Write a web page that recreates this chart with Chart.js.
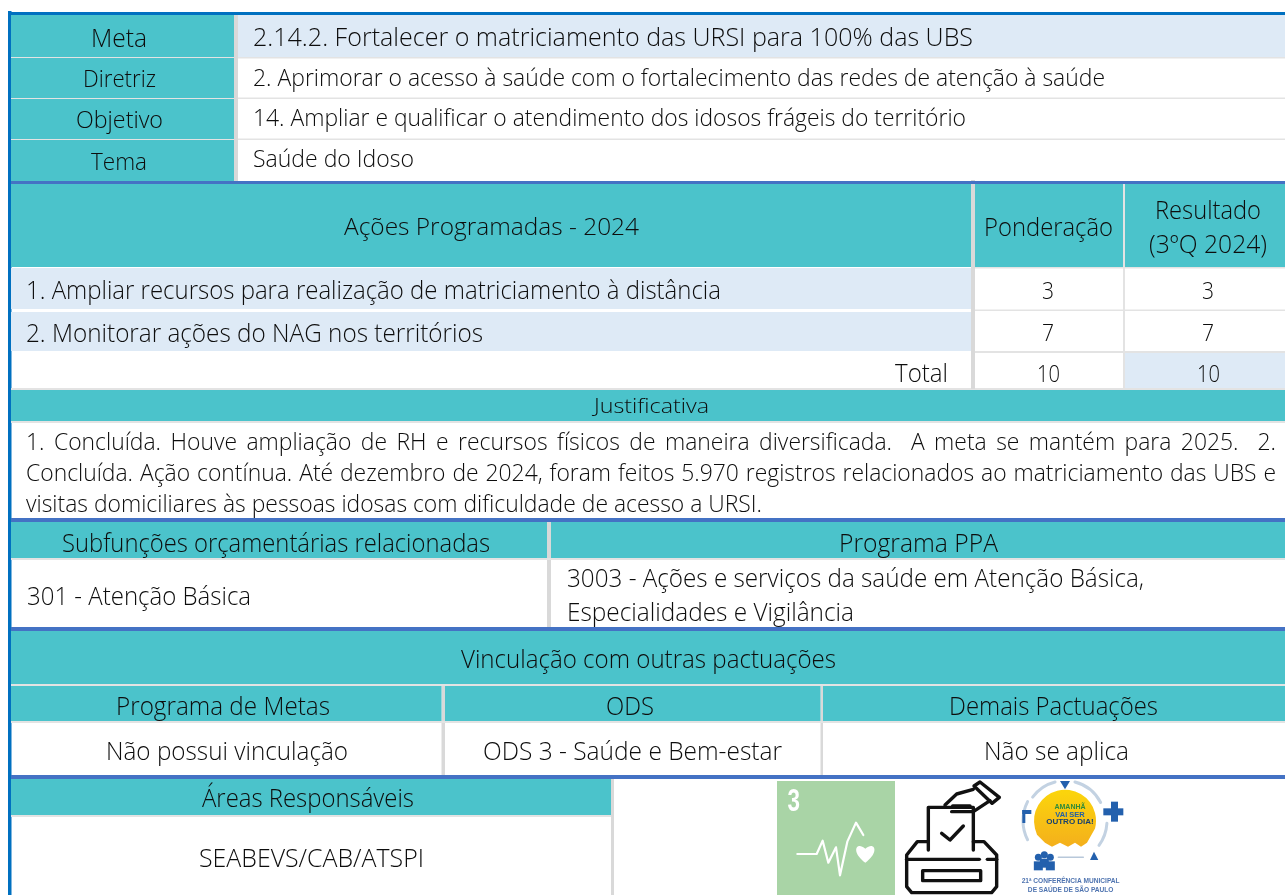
<!DOCTYPE html>
<html lang="pt-BR"><head><meta charset="utf-8">
<script src="https://cdn.jsdelivr.net/npm/chart.js@4/dist/chart.umd.min.js"></script>
<style>html,body{margin:0;padding:0;background:#fff;overflow:hidden}canvas{display:block}</style>
</head><body><canvas id="c" width="1285" height="895"></canvas>
<script>
// ---- table content ----
const headRows = ["Meta","Diretriz","Objetivo","Tema"];
const headText = ["2.14.2. Fortalecer o matriciamento das URSI para 100% das UBS",
 "2. Aprimorar o acesso à saúde com o fortalecimento das redes de atenção à saúde",
 "14. Ampliar e qualificar o atendimento dos idosos frágeis do território",
 "Saúde do Idoso"];
const acoes = ["1. Ampliar recursos para realização de matriciamento à distância","2. Monitorar ações do NAG nos territórios"];
const ponderacao = [3,7,10];
const resultado = [3,7,10];
const justificativa = ["1. Concluída. Houve ampliação de RH e recursos físicos de maneira diversificada.  A meta se mantém para 2025.  2.",
 "Concluída. Ação contínua. Até dezembro de 2024, foram feitos 5.970 registros relacionados ao matriciamento das UBS e",
 "visitas domiciliares às pessoas idosas com dificuldade de acesso a URSI."];

// ---- colours ----
const TEAL="#4bc3cb", PALE="#deeaf6", GREY="#d9d9d9", LINE="#e3e3e3", BLUE="#4472c4", EDGE="#0070c0", INK="#0d0d0d";

// ---- table geometry: x0,x1,y0,y1,colour ----
const cells=[
 [11,234,15,57,TEAL],[11,234,58,98,TEAL],[11,234,99,139,TEAL],[11,234,140,181,TEAL],
 [234,238,15,181,GREY],[238,1285,15,57,PALE],[238,1285,57,58.5,LINE],[238,1285,97.5,99,LINE],[238,1285,138.5,140,LINE],
 [11,234,57,58,LINE],[11,234,98,99,LINE],[11,234,139,140,LINE],
 [11,1285,181,184,BLUE],
 [11,971,184,267,TEAL],[975,1123,184,267,TEAL],[1125,1285,184,267,TEAL],
 [971,975,180,389,GREY],[1123,1125,184,389,LINE],
 [975,1285,267,268.5,LINE],[975,1285,309.5,311,LINE],[975,1285,351,353,LINE],[11,1285,388,390,LINE],
 [11,971,268,309,PALE],[11,971,312,351,PALE],[1125,1285,353,388,PALE],
 [11,1285,390,421,TEAL],[11,1285,421,423,LINE],
 [11,1285,518,522,BLUE],
 [11,547,522,558,TEAL],[551,1285,522,558,TEAL],[11,1285,558,560,LINE],[547,551,522,627,GREY],
 [11,1285,627,631,BLUE],
 [11,1285,631,684,TEAL],[11,1285,684,686,LINE],
 [11,441.5,686,721,TEAL],[445,820.5,686,721,TEAL],[823,1285,686,721,TEAL],[11,1285,721,723,LINE],
 [441.5,445,686,775,GREY],[820.5,823,686,775,GREY],
 [11,1285,775,779,BLUE],
 [11,611,779,815,TEAL],[11,611,815,817,LINE],[611,614,779,895,GREY],
 [8,11.5,11,895,EDGE],[8,1285,12,15,EDGE]
];

// ---- text placement: string, x-start, x-end, baseline, font px ----
const S=v=>String(v);
const texts=[
 [headRows[0],91,147,46.5,25.5],[headRows[1],83,156,87,24],[headRows[2],76,163,128,24],[headRows[3],91,147,170,24],
 [headText[0],253,973,46,25.5],[headText[1],253,1105,85.5,24],[headText[2],253,966,126,24],[headText[3],253,414,167,24],
 ["Ações Programadas - 2024",344,639,235,24.5],["Ponderação",984,1113,235.5,25],["Resultado",1155,1261,219,25],["(3ºQ 2024)",1149,1267,252.5,25],
 [acoes[0],26,721,299,25],[acoes[1],26,483,342,25],["Total",895,948,382,25],
 [S(ponderacao[0]),1042,1054,299,24],[S(resultado[0]),1202,1214,299,24],
 [S(ponderacao[1]),1042,1054,340.5,24],[S(resultado[1]),1202,1214,340.5,24],
 [S(ponderacao[2]),1037,1060,381.5,24],[S(resultado[2]),1197,1220,381.5,24],
 ["Justificativa",594,709,413,20.5],
 [justificativa[2],26,762,512,23.5],
 ["Subfunções orçamentárias relacionadas",62,490,552,25.5],["Programa PPA",839,998,552,25.5],
 ["301 - Atenção Básica",27,251,604.5,25.5],
 ["3003 - Ações e serviços da saúde em Atenção Básica,",567,1144,587,25.5],["Especialidades e Vigilância",567,854,621,25.5],
 ["Vinculação com outras pactuações",461,836,668,25.5],
 ["Programa de Metas",116,330,714.5,25.5],["ODS",606,654,714.5,25.5],["Demais Pactuações",949,1158,714.5,25.5],
 ["Não possui vinculação",106,348,759.5,25.5],["ODS 3 - Saúde e Bem-estar",483,782,759.5,25.5],["Não se aplica",984,1129,759.5,25.5],
 ["Áreas Responsáveis",202,414,807,25.5],["SEABEVS/CAB/ATSPI",199,424,867,25.5]
];
const justified=[[justificativa[0],26,1276,449.5,23.5],[justificativa[1],26,1276,481,23.5]];

const FONT=px=>`300 ${px}px "Open Sans"`;
function fit(ctx,t,x0,x1,y,px){
 ctx.save();ctx.font=FONT(px);ctx.textAlign="left";ctx.textBaseline="alphabetic";ctx.fillStyle=INK;
 const m=ctx.measureText(t).width;ctx.translate(x0,y);ctx.scale((x1-x0)/m,1);ctx.fillText(t,0,0);ctx.restore();
}
function just(ctx,t,x0,x1,y,px){
 ctx.save();ctx.font=FONT(px);ctx.fillStyle=INK;
 const k=736/ctx.measureText(justificativa[2]).width;
 const ws=t.split(" ");
 const w=ws.map(s=>s?ctx.measureText(s).width*k:0);
 const gap=(x1-x0-w.reduce((a,b)=>a+b,0))/(ws.length-1);
 let x=x0;ws.forEach((s,i)=>{if(s){ctx.save();ctx.translate(x,y);ctx.scale(k,1);ctx.fillText(s,0,0);ctx.restore();}x+=w[i]+gap;});
 ctx.restore();
}
function icons(ctx){
 const X=z=>760+z/3,Y=z=>770+z/3;
 const poly=(pts,close)=>{ctx.beginPath();pts.forEach((p,i)=>i?ctx.lineTo(X(p[0]),Y(p[1])):ctx.moveTo(X(p[0]),Y(p[1])));if(close)ctx.closePath();ctx.stroke();};
 ctx.save();ctx.filter="blur(0.6px)";ctx.lineJoin="round";ctx.lineCap="round";
 // SDG 3 tile
 ctx.fillStyle="#a9d4a6";ctx.fillRect(777,781,118,114);
 ctx.save();ctx.fillStyle="#fff";ctx.font='bold 32px "Liberation Sans"';ctx.textAlign="left";ctx.translate(787.5,811);ctx.scale(0.7,1);ctx.fillText("3",0,0);ctx.restore();
 ctx.strokeStyle="#fff";ctx.fillStyle="#fff";ctx.lineWidth=2.2;
 poly([[112,252],[170,252],[188,212],[205,278],[228,232],[240,316],[262,215],[288,158],[310,195]]);
 ctx.beginPath();const hx=X(316),hy=Y(248);ctx.moveTo(hx,hy+10);ctx.bezierCurveTo(hx-15,hy-1,hx-9,hy-12,hx,hy-4);ctx.bezierCurveTo(hx+9,hy-12,hx+15,hy-1,hx,hy+10);ctx.fill();
 // ballot box
 ctx.strokeStyle="#111";ctx.lineWidth=3.4;
 poly([[505,240],[505,112],[640,112],[640,240]]);
 poly([[545,190],[570,210],[610,168]]);
 poly([[505,215],[472,215],[440,255],[440,350],[455,368],[695,368],[710,350],[710,255],[672,215],[640,215]]);
 poly([[440,268],[658,268]]);poly([[682,268],[710,268]]);
 poly([[488,302],[662,302],[662,332],[488,332]],true);
 poly([[555,105],[590,72],[640,58]]);poly([[575,125],[640,125],[690,92]]);poly([[578,108],[630,108]]);
 poly([[642,48],[660,36],[718,82],[696,100]],true);
 // conference logo
 const cx=X(915),cy=Y(152);
 ctx.strokeStyle="#c3d2e2";ctx.lineWidth=3;ctx.beginPath();ctx.arc(cx,cy,42,Math.PI*0.85,Math.PI*1.15);ctx.stroke();
 ctx.beginPath();ctx.arc(cx,cy,40,Math.PI*1.2,Math.PI*1.42);ctx.stroke();
 ctx.beginPath();ctx.arc(cx,cy,40,Math.PI*1.58,Math.PI*1.85);ctx.stroke();
 ctx.beginPath();ctx.arc(cx,cy,42,Math.PI*0.02,Math.PI*0.2);ctx.stroke();
 const g=ctx.createLinearGradient(0,cy-28,0,cy+25);g.addColorStop(0,"#fbd40c");g.addColorStop(1,"#f4b01c");
 ctx.fillStyle=g;ctx.beginPath();ctx.arc(cx,cy,31,Math.PI*-1.08,Math.PI*0.08);
 [[22,22],[16,26],[10,22],[3,26],[-5,22],[-13,26],[-20,22],[-28,14]].forEach(p=>ctx.lineTo(cx+p[0],cy+p[1]));
 ctx.closePath();ctx.fill();
 ctx.textAlign="center";
 ctx.fillStyle="#2e8b3a";ctx.font='bold 7px "Liberation Sans"';ctx.fillText("AMANHÃ",cx+5,Y(118));
 ctx.fillStyle="#1f5fa8";ctx.font='bold 7.5px "Liberation Sans"';ctx.fillText("VAI SER",cx+5,Y(141));
 ctx.fillStyle="#18406f";ctx.font='bold 8px "Liberation Sans"';ctx.fillText("OUTRO DIA!",cx+5,Y(163));
 ctx.fillStyle="#2360ad";
 ctx.fillRect(X(1030),Y(115),20,7);ctx.fillRect(X(1053),Y(95),7,20);
 ctx.fillRect(X(787),Y(120),3,13);ctx.fillRect(X(787),Y(120),9,4);
 ctx.beginPath();ctx.moveTo(X(900),Y(33));ctx.lineTo(X(930),Y(33));ctx.lineTo(X(915),Y(58));ctx.fill();
 [[835,262],[853,254],[871,262]].forEach(p=>{ctx.beginPath();ctx.arc(X(p[0]),Y(p[1]),3.5,0,7);ctx.fill();ctx.fillRect(X(p[0])-4.5,Y(p[1])+4,9,9);});
 ctx.beginPath();ctx.moveTo(X(990),Y(270));ctx.lineTo(X(1002),Y(245));ctx.lineTo(X(1015),Y(270));ctx.fill();
 ctx.strokeStyle="#b8c8da";ctx.lineWidth=1.5;poly([[895,262],[970,262]]);
 ctx.font='bold 6.6px "Liberation Sans"';ctx.fillStyle="#4f74b0";
 ctx.fillText("21ª CONFERÊNCIA MUNICIPAL",X(932),Y(338));ctx.fillText("DE SAÚDE DE SÃO PAULO",X(932),Y(366));
 ctx.restore();
}
const tablePlugin={id:"tableText",afterDatasetsDraw(ch){
 const ctx=ch.ctx;
 texts.forEach(t=>fit(ctx,...t));
 justified.forEach(t=>just(ctx,...t));
 icons(ctx);
}};
new Chart(document.getElementById("c"),{
 type:"bar",
 data:{datasets:cells.map(c=>({
   data:[{x:(c[0]+c[1])/2,y:[c[2],c[3]]}],
   backgroundColor:c[4],borderWidth:0,grouped:false,barPercentage:1e6,categoryPercentage:1,maxBarThickness:c[1]-c[0]
 }))},
 options:{responsive:false,animation:false,events:[],
  layout:{padding:0},
  plugins:{legend:{display:false},tooltip:{enabled:false},title:{display:false}},
  scales:{
   x:{type:"linear",min:0,max:1285,display:false,offset:false,grid:{display:false}},
   y:{type:"linear",min:0,max:895,reverse:true,display:false,grid:{display:false}}
  }},
 plugins:[tablePlugin]
});
</script></body></html>
